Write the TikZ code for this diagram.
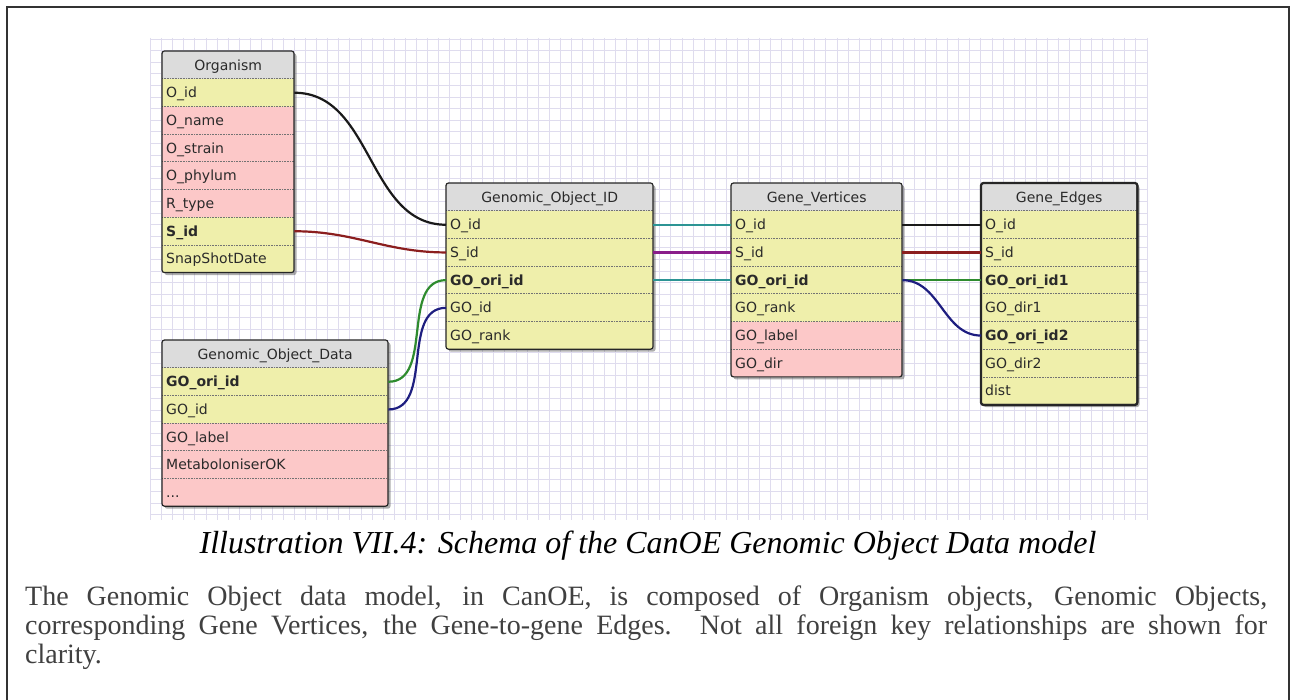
\documentclass[tikz,border=0pt]{standalone}
\usepackage{fontspec}
\setmainfont{Liberation Serif}
\newfontfamily\tblfont{DejaVu Sans}
\usetikzlibrary{shadows}

\definecolor{keyrow}{HTML}{EFEFAB}
\definecolor{datarow}{HTML}{FCC8C8}
\definecolor{hdrrow}{HTML}{DCDCDC}
\definecolor{gridc}{HTML}{DFDCEE}
\definecolor{tbltext}{HTML}{2A2A2A}
\definecolor{bodytext}{HTML}{404040}
\definecolor{framec}{HTML}{333333}
\definecolor{lkblack}{HTML}{1A1A1A}
\definecolor{lkred}{HTML}{8B1E1E}
\definecolor{lkgreen}{HTML}{2E8B2E}
\definecolor{lkblue}{HTML}{1E1E80}
\definecolor{lkteal}{HTML}{2C9494}
\definecolor{lkpurple}{HTML}{8A1E8A}

\tikzset{
  gridline/.style={draw=gridc, line width=0.8pt},
  hdrcell/.style={anchor=north west, fill=hdrrow, inner sep=0pt, minimum height=27.7pt,
    font=\tblfont\fontsize{14}{16}\selectfont, text=tbltext, text height=11pt, text depth=1pt},
  rowcell/.style={anchor=north west, inner xsep=4pt, inner ysep=0pt, minimum height=27.7pt,
    align=left, font=\tblfont\fontsize{14}{16}\selectfont, text=tbltext, text height=11pt, text depth=1pt},
  rowsep/.style={draw=black!55, line width=0.6pt, dash pattern=on 0.7pt off 0.9pt},
  tblframe/.style={draw=black!85, line width=1.2pt, rounded corners=2.5pt},
  link/.style={line width=2.2pt},
}

% #1 name, #2 left, #3 top, #4 width, #5 title, #6 rows (id/fill/text), #7 number of rows
\newcommand\erdtable[7]{%
  \fill[white, rounded corners=2.5pt,
    drop shadow={shadow xshift=2.5pt, shadow yshift=-2.5pt, opacity=.45, fill=black!70}]
    (#2,#3) rectangle ++(#4,{(#7+1)*27.7});
  \pgfmathsetmacro\erdtw{#4-8}
  \begin{scope}
    \clip[rounded corners=2.5pt] (#2,#3) rectangle ++(#4,{(#7+1)*27.7});
    \node[hdrcell, minimum width=#4pt] (#1) at (#2,#3) {#5};
    \foreach \r/\c/\t [count=\k] in {#6} {
      \node[rowcell, fill=\c, text width=\erdtw pt] (#1-\r) at (#2,{#3+\k*27.7}) {\t};
      \draw[rowsep] (#1-\r.north west) -- (#1-\r.north east);
    }
  \end{scope}
  \draw[tblframe] (#2,#3) rectangle ++(#4,{(#7+1)*27.7});
}

\begin{document}
\begin{tikzpicture}[x=1pt, y=-1pt]
\useasboundingbox (0,0) rectangle (1291,700);
\fill[white] (0,0) rectangle (1291,700);

% page frame
\draw[framec, line width=2pt] (7,701) -- (7,7) -- (1289,7) -- (1289,701);

% background grid
\foreach \i in {0,...,90} \draw[gridline] ({150.6+\i*11.07},38) -- ({150.6+\i*11.07},520);
\foreach \j in {0,...,41} \draw[gridline] (150,{39+\j*11.6}) -- (1147,{39+\j*11.6});

% tables
\erdtable{org}{162}{51}{132}{Organism}{%
  oid/keyrow/O\_id, name/datarow/O\_name, strain/datarow/O\_strain,
  phylum/datarow/O\_phylum, rtype/datarow/R\_type, sid/keyrow/\textbf{S\_id},
  snap/keyrow/SnapShotDate}{7}

\erdtable{god}{162}{340}{226}{Genomic\_Object\_Data}{%
  oriid/keyrow/\textbf{GO\_ori\_id}, goid/keyrow/GO\_id, label/datarow/GO\_label,
  metab/datarow/MetaboloniserOK, more/datarow/.{}.{}.}{5}

\erdtable{goid}{446}{183}{207}{Genomic\_Object\_ID}{%
  oid/keyrow/O\_id, sid/keyrow/S\_id, oriid/keyrow/\textbf{GO\_ori\_id},
  goid/keyrow/GO\_id, rank/keyrow/GO\_rank}{5}

\erdtable{gv}{731}{183}{171}{Gene\_Vertices}{%
  oid/keyrow/O\_id, sid/keyrow/S\_id, oriid/keyrow/\textbf{GO\_ori\_id},
  rank/keyrow/GO\_rank, label/datarow/GO\_label, dir/datarow/GO\_dir}{6}

\erdtable{ge}{981}{183}{156}{Gene\_Edges}{%
  oid/keyrow/O\_id, sid/keyrow/S\_id, ori1/keyrow/\textbf{GO\_ori\_id1},
  dir1/keyrow/GO\_dir1, ori2/keyrow/\textbf{GO\_ori\_id2}, dir2/keyrow/GO\_dir2,
  dist/keyrow/dist}{7}
\draw[tblframe, line width=2.2pt] (ge.north west) rectangle (ge-dist.south east);

% foreign key links
\draw[link, lkblack] (org-oid.east) to[out=0, in=180] (goid-oid.west);
\draw[link, lkred] (org-sid.east) to[out=0, in=180] (goid-sid.west);
\draw[link, lkgreen] (god-oriid.east) to[out=0, in=180] (goid-oriid.west);
\draw[link, lkblue] (god-goid.east) to[out=0, in=180] (goid-goid.west);
\draw[link, lkteal] (goid-oid.east) -- (gv-oid.west);
\draw[link, lkpurple] (goid-sid.east) -- (gv-sid.west);
\draw[link, lkteal] (goid-oriid.east) -- (gv-oriid.west);
\draw[link, lkblack] (gv-oid.east) -- (ge-oid.west);
\draw[link, lkred] (gv-sid.east) -- (ge-sid.west);
\draw[link, lkgreen] (gv-oriid.east) -- (ge-ori1.west);
\draw[link, lkblue] (gv-oriid.east) to[out=0, in=180] (ge-ori2.west);

% caption and description
\node[anchor=base, inner sep=0pt, font=\fontsize{32}{38}\selectfont\itshape] (cap) at (648,553)
  {Illustration VII.4: Schema of the CanOE Genomic Object Data model};
\node[anchor=north west, inner sep=0pt, text width=1242pt, align=justify, text=bodytext,
  font=\fontsize{28}{29}\selectfont] (body) at (25,586)
  {The Genomic Object data model, in CanOE, is composed of Organism objects, Genomic Objects,\linebreak
   corresponding Gene Vertices, the Gene-to-gene Edges. Not all foreign key relationships are shown for\linebreak
   clarity.};
\end{tikzpicture}
\end{document}
